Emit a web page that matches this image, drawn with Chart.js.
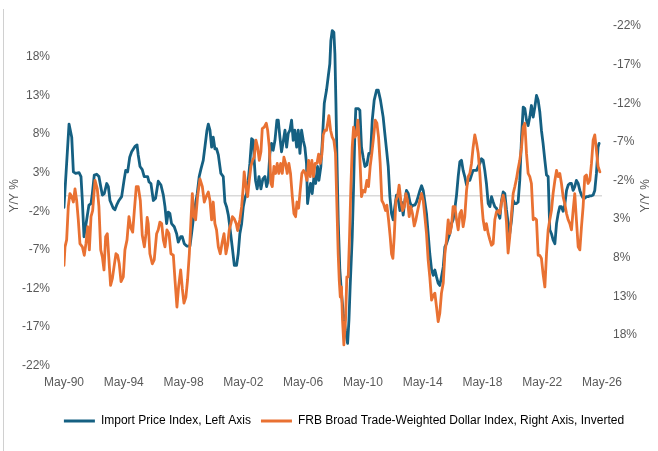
<!DOCTYPE html>
<html>
<head>
<meta charset="utf-8">
<script src="https://cdn.jsdelivr.net/npm/chart.js@4.4.1/dist/chart.umd.min.js"></script>
<style>
  html, body { margin: 0; padding: 0; background: #fff; }
</style>
</head>
<body>
<canvas id="chart" width="658" height="451"></canvas>
<script>
// Import Price Index, y/y % (left axis)
const importYears = [
  1990.33, 1990.67, 1990.85, 1990.96, 1991.11, 1991.34, 1991.47, 1991.56, 1991.67, 1991.85,
  1992.00, 1992.14, 1992.23, 1992.36, 1992.52, 1992.67, 1992.79, 1992.90, 1993.03, 1993.19,
  1993.30, 1993.41, 1993.63, 1993.74, 1993.88, 1994.01, 1994.19, 1994.35, 1994.46, 1994.59,
  1994.73, 1994.86, 1995.08, 1995.22, 1995.30, 1995.42, 1995.57, 1995.70, 1995.93, 1996.02,
  1996.15, 1996.31, 1996.46, 1996.64, 1996.82, 1996.98, 1997.09, 1997.20, 1997.31, 1997.42,
  1997.53, 1997.71, 1997.87, 1997.98, 1998.14, 1998.25, 1998.38, 1998.54, 1998.76, 1998.87,
  1998.98, 1999.10, 1999.25, 1999.38, 1999.50, 1999.65, 1999.76, 1999.90, 1999.99, 2000.10,
  2000.21, 2000.32, 2000.43, 2000.54, 2000.66, 2000.83, 2000.99, 2001.10, 2001.21, 2001.33,
  2001.44, 2001.59, 2001.73, 2001.88, 2001.99, 2002.10, 2002.22, 2002.33, 2002.44, 2002.55,
  2002.66, 2002.77, 2002.89, 2003.00, 2003.06, 2003.15, 2003.26, 2003.38, 2003.51, 2003.64,
  2003.78, 2003.89, 2004.00, 2004.11, 2004.22, 2004.33, 2004.45, 2004.58, 2004.67, 2004.78,
  2004.89, 2005.00, 2005.12, 2005.23, 2005.34, 2005.45, 2005.56, 2005.67, 2005.78, 2005.90,
  2006.01, 2006.12, 2006.23, 2006.34, 2006.45, 2006.56, 2006.63, 2006.72, 2006.83, 2006.94,
  2007.06, 2007.17, 2007.30, 2007.39, 2007.52, 2007.61, 2007.75, 2007.90, 2008.01, 2008.12,
  2008.19, 2008.28, 2008.39, 2008.46, 2008.53, 2008.59, 2008.68, 2008.79, 2008.90, 2009.02,
  2009.17, 2009.31, 2009.40, 2009.48, 2009.62, 2009.71, 2009.80, 2009.86, 2010.02, 2010.13,
  2010.24, 2010.35, 2010.47, 2010.60, 2010.73, 2010.85, 2010.96, 2011.09, 2011.25, 2011.36,
  2011.51, 2011.69, 2011.80, 2011.92, 2012.03, 2012.14, 2012.25, 2012.36, 2012.47, 2012.58,
  2012.70, 2012.81, 2012.92, 2013.03, 2013.14, 2013.25, 2013.37, 2013.48, 2013.59, 2013.70,
  2013.81, 2013.92, 2014.03, 2014.15, 2014.26, 2014.37, 2014.48, 2014.59, 2014.70, 2014.81,
  2014.93, 2015.04, 2015.15, 2015.26, 2015.37, 2015.48, 2015.59, 2015.71, 2015.82, 2015.93,
  2016.04, 2016.15, 2016.26, 2016.37, 2016.49, 2016.60, 2016.71, 2016.82, 2016.93, 2017.04,
  2017.15, 2017.27, 2017.38, 2017.49, 2017.60, 2017.71, 2017.82, 2017.94, 2018.05, 2018.16,
  2018.27, 2018.38, 2018.49, 2018.60, 2018.72, 2018.83, 2018.94, 2019.05, 2019.16, 2019.27,
  2019.39, 2019.50, 2019.61, 2019.72, 2019.83, 2019.94, 2020.05, 2020.16, 2020.28, 2020.39,
  2020.50, 2020.61, 2020.72, 2020.83, 2020.95, 2021.06, 2021.17, 2021.28, 2021.39, 2021.50,
  2021.61, 2021.73, 2021.84, 2021.95, 2022.06, 2022.17, 2022.28, 2022.39, 2022.51, 2022.62,
  2022.73, 2022.84, 2022.95, 2023.06, 2023.18, 2023.29, 2023.40, 2023.51, 2023.62, 2023.73,
  2023.84, 2023.96, 2024.07, 2024.18, 2024.29, 2024.40, 2024.51, 2024.62, 2024.74, 2024.85,
  2024.96, 2025.07, 2025.18, 2025.29, 2025.40, 2025.52, 2025.63, 2025.74, 2025.85, 2025.96,
  2026.07, 2026.14
];
const importValues = [
  -1.5, 9.3, 7.6, 3.1, 2.9, 3.0, 2.5, -0.6, -5.3, -3.1,
  -1.2, -1.0, 0.3, 2.7, 2.8, 2.5, 1.2, 0.1, 0.3, 1.6,
  1.2, -0.6, -1.6, -1.8, -1.1, -0.6, -0.1, 2.0, 3.3, 3.1,
  5.0, 5.7, 6.4, 6.6, 5.3, 3.8, 3.4, 2.5, 2.5, 1.8,
  1.6, -0.6, -0.3, 1.9, 1.4, 0.1, -1.4, -3.6, -2.1, -2.3,
  -3.6, -4.0, -4.9, -6.0, -5.3, -5.3, -6.2, -6.5, -6.5, -4.9,
  -3.1, -1.4, 0.3, 2.5, 3.5, 4.6, 6.3, 8.5, 9.3, 8.5,
  6.3, 7.6, 6.1, 6.1, 5.3, 2.9, 2.5, -0.8, -1.4, -2.5,
  -4.2, -6.6, -9.0, -9.0, -7.5, -4.9, -3.6, -1.4, -0.3, 0.3,
  2.0, 4.2, 7.4, 7.2, 4.6, 2.0, 0.9, 2.5, 0.9, 2.2,
  2.5, 1.2, 2.0, 5.5, 6.8, 5.9, 7.2, 9.8, 9.8, 7.6,
  5.7, 7.0, 8.5, 6.3, 8.1, 8.5, 9.8, 7.2, 8.5, 6.3,
  8.5, 5.5, 8.5, 7.2, 6.3, 4.2, -1.0, 0.3, 1.6, 0.3,
  2.5, 1.6, 3.8, 2.0, 3.8, 6.8, 12.0, 13.7, 15.4, 17.1,
  20.1, 21.4, 21.2, 18.4, 11.9, 5.5, -3.1, -9.6, -12.6, -15.2,
  -17.4, -19.1, -16.1, -11.8, -5.3, 1.2, 8.5, 11.3, 11.3, 11.1,
  6.3, 5.0, 3.8, 4.0, 5.5, 5.5, 9.8, 12.4, 13.7, 13.7,
  12.4, 10.2, 8.1, 5.9, 3.8, -0.1, -2.3, -3.1, -1.4, 0.1,
  -0.5, -1.9, -0.8, -2.5, -0.6, 0.7, 0.3, -0.8, -1.4, -1.2,
  -1.2, -0.8, -0.1, 0.7, 1.3, 0.7, -0.8, -2.3, -4.9, -7.5,
  -9.6, -10.3, -9.6, -10.5, -11.3, -11.6, -10.5, -9.2, -6.6, -6.2,
  -5.5, -4.9, -3.6, -3.1, -1.6, 0.1, 2.5, 4.4, 4.6, 3.3,
  2.5, 1.4, 2.0, 2.0, 2.7, 3.3, 3.3, 3.3, 3.8, 4.2,
  4.8, 4.6, 3.3, 1.6, -1.0, -1.4, -0.1, -0.8, -1.4, -1.6,
  -2.3, -2.9, -0.6, 0.5, 0.3, -1.8, -3.5, -4.9, -3.1, -0.6,
  -1.0, -1.0, -0.8, 2.0, 7.6, 11.5, 11.3, 9.8, 9.1, 10.2,
  11.7, 10.2, 11.5, 13.0, 12.4, 10.9, 8.5, 6.8, 4.6, 2.7,
  2.5, -4.4, -4.9, -5.7, -6.2, -3.6, -2.3, -1.4, -1.4, -2.0,
  -1.2, 0.7, 1.4, 1.6, 1.6, 0.7, 1.2, 2.0, 1.6, 0.7,
  0.1, -0.3, -0.3, -0.1, -0.1, 0.0, 0.0, 0.1, 0.7, 2.9,
  6.3, 6.8
];

// FRB Broad Trade-Weighted Dollar Index, y/y % (right axis, inverted)
const dollarYears = [
  1990.33, 1990.40, 1990.51, 1990.62, 1990.73, 1990.85, 1990.96, 1991.07, 1991.18, 1991.29,
  1991.40, 1991.56, 1991.69, 1991.80, 1991.92, 1992.03, 1992.14, 1992.25, 1992.41, 1992.56,
  1992.67, 1992.79, 1992.90, 1993.01, 1993.12, 1993.23, 1993.34, 1993.45, 1993.57, 1993.68,
  1993.81, 1993.92, 1994.03, 1994.15, 1994.30, 1994.41, 1994.55, 1994.68, 1994.81, 1994.93,
  1995.04, 1995.17, 1995.30, 1995.44, 1995.57, 1995.71, 1995.82, 1995.90, 1995.97, 1996.08,
  1996.24, 1996.37, 1996.53, 1996.64, 1996.75, 1996.87, 1996.98, 1997.09, 1997.22, 1997.36,
  1997.49, 1997.65, 1997.76, 1997.89, 1998.00, 1998.14, 1998.25, 1998.36, 1998.49, 1998.60,
  1998.72, 1998.83, 1998.92, 1999.03, 1999.14, 1999.27, 1999.43, 1999.59, 1999.72, 1999.85,
  1999.99, 2000.10, 2000.21, 2000.32, 2000.43, 2000.54, 2000.66, 2000.79, 2000.92, 2001.04,
  2001.17, 2001.28, 2001.39, 2001.50, 2001.60, 2001.73, 2001.86, 2001.95, 2002.10, 2002.22,
  2002.33, 2002.39, 2002.51, 2002.62, 2002.73, 2002.84, 2002.95, 2003.06, 2003.18, 2003.29,
  2003.40, 2003.51, 2003.60, 2003.73, 2003.87, 2003.96, 2004.07, 2004.18, 2004.27, 2004.38,
  2004.49, 2004.60, 2004.71, 2004.83, 2004.94, 2005.05, 2005.16, 2005.27, 2005.38, 2005.49,
  2005.61, 2005.72, 2005.83, 2005.92, 2006.03, 2006.14, 2006.25, 2006.36, 2006.48, 2006.59,
  2006.70, 2006.81, 2006.92, 2007.03, 2007.14, 2007.26, 2007.37, 2007.48, 2007.59, 2007.68,
  2007.79, 2007.90, 2008.06, 2008.17, 2008.28, 2008.39, 2008.50, 2008.59, 2008.68, 2008.75,
  2008.82, 2008.90, 2008.97, 2009.06, 2009.17, 2009.26, 2009.35, 2009.44, 2009.53, 2009.62,
  2009.71, 2009.80, 2009.91, 2010.00, 2010.11, 2010.24, 2010.35, 2010.47, 2010.60, 2010.71,
  2010.82, 2010.93, 2011.05, 2011.16, 2011.27, 2011.38, 2011.49, 2011.60, 2011.71, 2011.85,
  2011.94, 2012.05, 2012.16, 2012.25, 2012.34, 2012.43, 2012.54, 2012.65, 2012.76, 2012.87,
  2012.99, 2013.10, 2013.21, 2013.32, 2013.43, 2013.54, 2013.65, 2013.77, 2013.88, 2013.99,
  2014.14, 2014.26, 2014.37, 2014.48, 2014.59, 2014.70, 2014.81, 2014.93, 2015.04, 2015.15,
  2015.26, 2015.37, 2015.48, 2015.59, 2015.71, 2015.82, 2015.93, 2016.04, 2016.15, 2016.26,
  2016.37, 2016.49, 2016.60, 2016.71, 2016.82, 2016.93, 2017.04, 2017.15, 2017.27, 2017.38,
  2017.49, 2017.60, 2017.71, 2017.82, 2017.94, 2018.05, 2018.16, 2018.27, 2018.38, 2018.49,
  2018.60, 2018.72, 2018.83, 2018.94, 2019.05, 2019.16, 2019.27, 2019.39, 2019.50, 2019.61,
  2019.72, 2019.83, 2019.94, 2020.05, 2020.16, 2020.28, 2020.39, 2020.50, 2020.61, 2020.72,
  2020.83, 2020.95, 2021.06, 2021.17, 2021.28, 2021.39, 2021.50, 2021.61, 2021.73, 2021.84,
  2021.95, 2022.06, 2022.17, 2022.28, 2022.39, 2022.51, 2022.62, 2022.73, 2022.84, 2022.95,
  2023.06, 2023.18, 2023.29, 2023.40, 2023.51, 2023.62, 2023.73, 2023.84, 2023.96, 2024.07,
  2024.18, 2024.29, 2024.40, 2024.51, 2024.62, 2024.74, 2024.85, 2024.96, 2025.07, 2025.18,
  2025.29, 2025.40, 2025.52, 2025.63, 2025.74, 2025.85, 2025.96, 2026.07, 2026.19
];
const dollarValues = [
  9.0, 6.6, 5.7, 1.4, -0.3, 0.1, 0.8, -0.9, 0.6, 3.1,
  6.2, 6.6, 7.7, 6.2, 4.0, 7.0, 2.7, 1.9, -2.0, -0.9,
  1.4, 7.0, 7.9, 9.6, 5.3, 4.9, 8.3, 11.6, 10.7, 9.2,
  7.5, 7.7, 8.8, 11.1, 10.5, 7.0, 5.7, 2.7, 4.2, 4.7,
  1.9, -1.2, -1.2, 0.6, 5.1, 6.6, 4.9, 2.8, 3.6, 7.5,
  8.8, 8.3, 4.9, 4.4, 3.4, 3.6, 5.7, 6.6, 4.4, 4.9,
  7.5, 7.7, 10.9, 14.4, 11.8, 9.6, 12.0, 13.9, 13.1, 10.9,
  7.5, 3.1, -0.3, 2.7, 3.1, 0.1, -2.2, -1.2, 0.8, 0.1,
  -0.5, 0.6, 3.1, 0.8, 3.6, 4.4, 6.6, 7.5, 6.0, 4.9,
  7.5, 6.4, 4.4, 3.6, 2.7, 3.0, 3.6, 4.5, 3.1, 1.4,
  -1.2, -3.1, -1.2, 0.1, -2.0, -3.8, -4.6, -5.0, -7.2, -6.3,
  -4.6, -5.7, -8.7, -8.9, -9.4, -8.5, -6.3, -1.6, -1.2, -3.8,
  -2.9, -4.2, -2.9, -4.2, -2.9, -5.0, -4.2, -2.9, -4.2, -2.9,
  0.1, 2.3, 2.7, 0.8, 1.6, -0.7, -2.9, -3.3, -2.9, -2.0,
  -4.6, -2.5, -4.6, -2.5, -4.2, -4.2, -5.4, -4.2, -5.4, -7.9,
  -8.5, -8.5, -10.4, -8.5, -7.6, -7.2, -5.5, 1.0, 7.5, 10.9,
  13.1, 11.8, 16.1, 19.3, 16.1, 10.5, 10.5, 5.3, -1.2, -6.3,
  -8.9, -7.6, -8.0, -9.8, -5.9, 0.1, -0.7, -0.5, -2.0, -1.2,
  -3.8, -5.5, -7.6, -9.8, -9.4, -7.6, -4.2, 0.6, 1.0, 1.9,
  1.2, 3.1, 5.3, 7.5, 8.1, 5.3, 0.6, 0.1, -1.4, 0.6,
  1.9, 1.4, -0.3, 0.6, 2.7, 1.4, 2.3, 3.9, 3.1, 2.0,
  0.6, -0.3, 0.6, 2.7, 4.9, 8.3, 10.5, 13.5, 12.9, 12.6,
  14.4, 16.3, 15.2, 12.6, 11.3, 7.5, 5.7, 3.1, 4.9, 4.0,
  1.4, 1.4, 3.1, 4.4, 2.3, 1.9, 4.0, 2.7, -0.7, -2.5,
  -2.9, -4.2, -6.3, -7.9, -6.8, -5.5, -2.9, 0.6, 3.1, 4.4,
  3.6, 4.9, 5.7, 6.4, 6.2, 3.1, 2.1, 1.9, 2.3, 0.8,
  -0.1, 0.9, 3.4, 7.4, 5.3, 2.3, -0.3, -1.2, -2.2, -3.5,
  -4.6, -6.3, -8.9, -9.4, -5.5, -2.9, -2.5, -1.6, 3.1, 2.9,
  3.1, 7.7, 7.7, 8.1, 10.1, 11.8, 7.5, 4.4, 3.1, 1.9,
  -0.3, -2.0, -3.3, -2.5, -2.9, -1.6, 0.1, 1.0, 2.3, 3.1,
  3.6, 4.4, 1.9, -0.3, 3.1, 6.6, 7.0, 4.0, 1.4, -2.5,
  -2.7, -1.6, -2.0, -4.2, -7.2, -7.9, -5.9, -3.8, -3.1
];

const xTicks = [1990.333, 1994.333, 1998.333, 2002.333, 2006.333, 2010.333, 2014.333, 2018.333, 2022.333, 2026.333];
const xTickLabels = ['May-90', 'May-94', 'May-98', 'May-02', 'May-06', 'May-10', 'May-14', 'May-18', 'May-22', 'May-26'];
const yTicks = [-22, -17, -12, -7, -2, 3, 8, 13, 18];

const textColor = '#595959';
const fontFamily = '"Liberation Sans", Arial, sans-serif';

Chart.defaults.font.family = fontFamily;
Chart.defaults.font.size = 12;
Chart.defaults.color = textColor;

function points(xs, ys) {
  return xs.map((x, i) => ({ x: x, y: ys[i] }));
}

// zero line, axis titles, the frame edge on the left, and the legend nudge
const decorations = {
  id: 'decorations',
  afterLayout(chart) {
    // legend in the original sits a bit right of the canvas centre
    chart.legend.left += 15;
    chart.legend.right += 15;
  },
  beforeDatasetsDraw(chart) {
    const { ctx, chartArea, scales } = chart;
    const y0 = scales.y.getPixelForValue(0);
    ctx.save();
    ctx.strokeStyle = '#d9d9d9';
    ctx.lineWidth = 1.5;
    ctx.beginPath();
    ctx.moveTo(chartArea.left, y0);
    ctx.lineTo(chartArea.right, y0);
    ctx.stroke();
    ctx.restore();
  },
  afterDraw(chart) {
    const { ctx, chartArea } = chart;
    const midY = (chartArea.top + chartArea.bottom) / 2;
    ctx.save();
    ctx.fillStyle = textColor;
    ctx.font = '12px ' + fontFamily;
    ctx.textAlign = 'center';
    ctx.textBaseline = 'middle';
    [15, 646].forEach((x) => {
      ctx.save();
      ctx.translate(x, midY);
      ctx.rotate(-Math.PI / 2);
      ctx.fillText('Y/Y %', 0, 0);
      ctx.restore();
    });
    ctx.strokeStyle = '#d0d0d0';
    ctx.lineWidth = 1;
    ctx.beginPath();
    ctx.moveTo(3.5, 9);
    ctx.lineTo(3.5, 451);
    ctx.stroke();
    ctx.restore();
  }
};

const yAxisCommon = {
  min: -22,
  max: 22,
  afterBuildTicks: (scale) => { scale.ticks = yTicks.map((v) => ({ value: v })); },
  grid: { display: false, drawTicks: false },
  border: { display: false }
};

new Chart(document.getElementById('chart'), {
  type: 'line',
  data: {
    datasets: [
      {
        label: 'Import Price Index, Left Axis',
        data: points(importYears, importValues),
        borderColor: '#156082',
        backgroundColor: '#156082',
        yAxisID: 'y',
        order: 2
      },
      {
        label: 'FRB Broad Trade-Weighted Dollar Index, Right Axis, Inverted',
        data: points(dollarYears, dollarValues),
        borderColor: '#E97132',
        backgroundColor: '#E97132',
        yAxisID: 'y2',
        order: 1
      }
    ]
  },
  options: {
    responsive: false,
    animation: false,
    devicePixelRatio: 1,
    layout: { padding: { left: 0, right: 0, top: 26, bottom: 14 } },
    elements: {
      point: { radius: 0 },
      line: { tension: 0, borderWidth: 2.8, borderJoinStyle: 'round', borderCapStyle: 'round' }
    },
    scales: {
      x: {
        type: 'linear',
        min: xTicks[0],
        max: xTicks[xTicks.length - 1],
        afterBuildTicks: (scale) => { scale.ticks = xTicks.map((v) => ({ value: v })); },
        afterFit: (scale) => { scale.height = 39.3; },
        ticks: {
          autoSkip: false,
          maxRotation: 0,
          padding: 10,
          callback: (v, i) => xTickLabels[i]
        },
        grid: { display: false, drawTicks: false },
        border: { display: false }
      },
      y: {
        ...yAxisCommon,
        position: 'left',
        afterFit: (scale) => { scale.width = 64; },
        ticks: { padding: 14, callback: (v) => v + '%' }
      },
      y2: {
        ...yAxisCommon,
        position: 'right',
        reverse: true,
        afterFit: (scale) => { scale.width = 56; },
        ticks: { padding: 11, callback: (v) => v + '%' }
      }
    },
    plugins: {
      tooltip: { enabled: false },
      legend: {
        position: 'bottom',
        labels: {
          boxWidth: 31,
          boxHeight: 3,
          padding: 10,
          color: textColor,
          generateLabels: (chart) => chart.data.datasets.map((d, i) => ({
            text: d.label,
            fillStyle: d.borderColor,
            strokeStyle: d.borderColor,
            lineWidth: 0,
            hidden: false,
            datasetIndex: i
          })),
          sort: (a, b) => a.datasetIndex - b.datasetIndex
        }
      }
    }
  },
  plugins: [decorations]
});
</script>
</body>
</html>
